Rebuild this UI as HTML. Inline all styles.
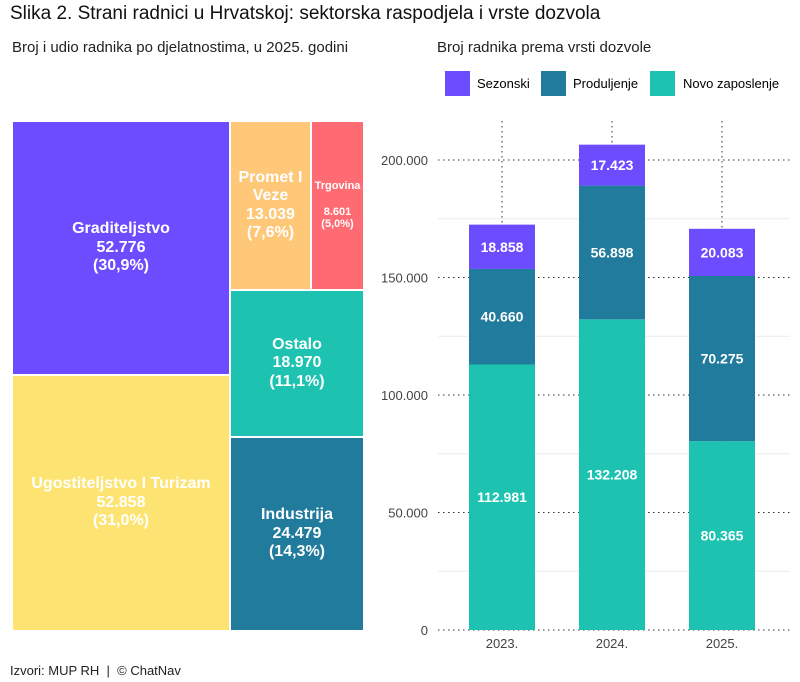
<!DOCTYPE html>
<html><head><meta charset="utf-8"><style>
body{margin:0;width:800px;height:682px;background:#fff;font-family:"Liberation Sans",sans-serif;position:relative;overflow:hidden}
.t{position:absolute;white-space:nowrap}
.cell{position:absolute;box-sizing:border-box;border:1px solid #fff;display:flex;align-items:center;justify-content:center;text-align:center;color:#fff;font-weight:bold;line-height:1.15}
</style></head><body>
<div class="t" style="left:10px;top:3px;font-size:19px;color:#111">Slika 2. Strani radnici u Hrvatskoj: sektorska raspodjela i vrste dozvola</div>
<div class="t" style="left:12px;top:39px;font-size:15px;color:#222">Broj i udio radnika po djelatnostima, u 2025. godini</div>
<div class="t" style="left:437px;top:39px;font-size:15px;color:#222">Broj radnika prema vrsti dozvole</div>
<div id="treemap">
<div class="cell" style="left:12px;top:121px;width:218px;height:254px;background:#6c4cff;font-size:16px">Graditeljstvo<br>52.776<br>(30,9%)</div>
<div class="cell" style="left:12px;top:375px;width:218px;height:256px;background:#fde472;font-size:16px">Ugostiteljstvo I Turizam<br>52.858<br>(31,0%)</div>
<div class="cell" style="left:230px;top:121px;width:81px;height:169px;background:#fec878;font-size:16px">Promet I<br>Veze<br>13.039<br>(7,6%)</div>
<div class="cell" style="left:311px;top:121px;width:53px;height:169px;background:#fe6b72;font-size:11px">Trgovina<br><br>8.601<br>(5,0%)</div>
<div class="cell" style="left:230px;top:290px;width:134px;height:147px;background:#1dc3b0;font-size:16px">Ostalo<br>18.970<br>(11,1%)</div>
<div class="cell" style="left:230px;top:437px;width:134px;height:194px;background:#217b9c;font-size:16px">Industrija<br>24.479<br>(14,3%)</div>
</div>
<div>
<div style="position:absolute;left:445px;top:71px;width:25px;height:25px;background:#6c4cff"></div>
<div class="t" style="left:477px;top:76px;font-size:13px">Sezonski</div>
<div style="position:absolute;left:541px;top:71px;width:25px;height:25px;background:#217b9c"></div>
<div class="t" style="left:573px;top:76px;font-size:13px">Produljenje</div>
<div style="position:absolute;left:650px;top:71px;width:25px;height:25px;background:#1dc3b0"></div>
<div class="t" style="left:683px;top:76px;font-size:13px">Novo zaposlenje</div>
</div>
<svg id="bars" width="800" height="682" style="position:absolute;left:0;top:0"></svg>
<div class="t" style="left:10px;top:663px;font-size:13px;color:#222">Izvori: MUP RH &nbsp;|&nbsp; © ChatNav</div>
<script>
const years=["2023.","2024.","2025."];
const novo=[112981,132208,80365];
const produljenje=[40660,56898,70275];
const sezonski=[18858,17423,20083];
const ticks=[0,50000,100000,150000,200000];
const labels=["0","50.000","100.000","150.000","200.000"];
const NS="http://www.w3.org/2000/svg",svg=document.getElementById('bars');
const y=v=>630-v*470/200000, x=i=>502+i*110, bw=66;
function mk(t,a){const e=document.createElementNS(NS,t);for(const k in a)e.setAttribute(k,a[k]);svg.appendChild(e);return e;}
for(let v=25000;v<=200000;v+=50000){const l=mk('line',{x1:438,x2:790,y1:y(v),y2:y(v),stroke:'#ebebeb'});}
ticks.forEach((v,i)=>{const l=mk('line',{x1:438,x2:790,y1:y(v),y2:y(v),stroke:'#333','stroke-dasharray':'1.5,3.5'});

const t=mk('text',{x:428,y:y(v)+5,'text-anchor':'end','font-size':13,fill:'#444'});t.textContent=labels[i];
});
years.forEach((yr,i)=>{const l=mk('line',{x1:x(i),x2:x(i),y1:121,y2:630,stroke:'#333','stroke-dasharray':'1.5,3.5'});

const t=mk('text',{x:x(i),y:648,'text-anchor':'middle','font-size':13,fill:'#444'});t.textContent=yr;

let base=0;[[novo,'#1dc3b0','novo'],[produljenje,'#217b9c','produljenje'],[sezonski,'#6c4cff','sezonski']].forEach(([arr,c,n])=>{
const v=arr[i];const r=mk('rect',{x:x(i)-bw/2,y:y(base+v),width:bw,height:y(base)-y(base+v),fill:c});

const tx=mk('text',{x:x(i),y:(y(base)+y(base+v))/2+5,'text-anchor':'middle','font-size':14,'font-weight':'bold',fill:'#fff'});
tx.textContent=v.toLocaleString('de-DE');
base+=v;});});
</script>
</body></html>
